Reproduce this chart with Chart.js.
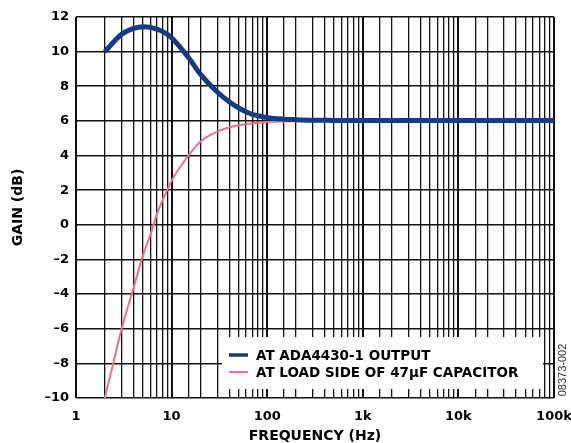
<!DOCTYPE html>
<html>
<head>
<meta charset="utf-8">
<script src="https://cdn.jsdelivr.net/npm/chart.js@4/dist/chart.umd.min.js"></script>
<style>
  html, body { margin: 0; padding: 0; background: #fff; }
  #wrap { width: 571px; height: 443px; }
</style>
</head>
<body>
<div id="wrap"><canvas id="myChart" width="571" height="443"></canvas></div>
<script>
// values
const outputFreq = [2, 3, 4, 5, 6, 7, 8, 9, 10, 15, 20, 30, 40, 50, 60, 70, 80, 100, 150, 200, 300, 500, 1000, 10000, 100000];
const outputGain = [10.0, 11.0, 11.34, 11.44, 11.4, 11.3, 11.17, 11.0, 10.8, 9.66, 8.7, 7.67, 7.11, 6.76, 6.53, 6.38, 6.3, 6.19, 6.1, 6.07, 6.04, 6.03, 6.02, 6.02, 6.02];

const loadFreq = [2, 2.5, 3, 4, 5, 6, 7, 8, 9, 10, 15, 20, 30, 40, 50, 70, 100, 200, 1000, 100000];
const loadGain = [-10, -7.8, -6.0, -3.65, -1.78, -0.57, 0.6, 1.4, 2.0, 2.55, 4.0, 4.8, 5.38, 5.62, 5.75, 5.87, 5.94, 5.98, 5.99, 5.99];

const seriesLabels = ['AT ADA4430-1 OUTPUT', 'AT LOAD SIDE OF 47µF CAPACITOR'];

const decadeValues = [1, 10, 100, 1000, 10000, 100000];
const decadeLabels = ['1', '10', '100', '1k', '10k', '100k'];

const gainTicks = [-10, -8, -6, -4, -2, 0, 2, 4, 6, 8, 10, 12];

const BLUE = '#143c86';
const PINK = '#ef6f88';

function toPoints(xs, ys) {
    return xs.map((x, i) => ({ x: x, y: ys[i] }));
}

function isDecade(v) {
    return decadeValues.indexOf(v) !== -1;
}

// legend box drawn inside the plot, bottom right
const insideLegend = {
    id: 'insideLegend',
    afterDatasetsDraw(chart) {
        const ctx = chart.ctx;
        const area = chart.chartArea;
        const boxW = 321, boxH = 52;
        const bx = area.right - 11 - boxW;
        const by = area.bottom - 9 - boxH;
        ctx.save();
        ctx.fillStyle = '#fff';
        ctx.fillRect(bx, by, boxW, boxH);
        ctx.font = 'bold 13.5px "DejaVu Sans"';
        ctx.textBaseline = 'middle';
        ctx.fillStyle = '#000';
        chart.data.datasets.forEach((ds, i) => {
            const y = by + 18 + i * 17;
            ctx.strokeStyle = ds.borderColor;
            ctx.lineWidth = i === 0 ? 3.5 : 2;
            ctx.beginPath();
            ctx.moveTo(bx + 7, y);
            ctx.lineTo(bx + 26, y);
            ctx.stroke();
            ctx.fillText(ds.label, bx + 34, y + 1);
        });
        ctx.restore();
    },
    afterDraw(chart) {
        const ctx = chart.ctx;
        ctx.save();
        ctx.translate(563, 370);
        ctx.rotate(-Math.PI / 2);
        ctx.font = '11px "Liberation Sans"';
        ctx.fillStyle = '#333';
        ctx.textAlign = 'center';
        ctx.textBaseline = 'middle';
        ctx.fillText('08373-002', 0, 0);
        ctx.restore();
    }
};

const config = {
    type: 'line',
    data: {
        datasets: [
            {
                label: seriesLabels[0],
                data: toPoints(outputFreq, outputGain),
                borderColor: BLUE,
                borderWidth: 5,
                pointRadius: 0,
                cubicInterpolationMode: 'monotone',
                fill: false,
            },
            {
                label: seriesLabels[1],
                data: toPoints(loadFreq, loadGain),
                borderColor: PINK,
                borderWidth: 2,
                pointRadius: 0,
                cubicInterpolationMode: 'monotone',
                fill: false,
            }
        ]
    },
    options: {
        responsive: false,
        animation: false,
        devicePixelRatio: 1,
        layout: { padding: { left: 0, top: 17, right: 17, bottom: 0 } },
        plugins: {
            legend: { display: false },
            tooltip: { enabled: false },
        },
        scales: {
            x: {
                type: 'logarithmic',
                min: 1,
                max: 100000,
                afterFit: (scale) => {
                    scale.height = 45;
                    scale.paddingLeft = 0;
                    scale.paddingRight = 0;
                },
                grid: {
                    color: '#111',
                    lineWidth: (c) => (c.tick && isDecade(c.tick.value)) ? 2 : 1.3,
                    drawTicks: false,
                },
                border: { display: false },
                ticks: {
                    autoSkip: false,
                    maxRotation: 0,
                    padding: 11,
                    color: '#000',
                    font: { family: '"DejaVu Sans"', weight: 'bold', size: 13 },
                    callback: (v) => {
                        const i = decadeValues.indexOf(v);
                        return i === -1 ? '' : decadeLabels[i];
                    }
                },
                title: {
                    display: true,
                    text: 'FREQUENCY (Hz)',
                    color: '#000',
                    font: { family: '"DejaVu Sans"', weight: 'bold', size: 14, lineHeight: 1 },
                    padding: { top: 0, bottom: 0 },
                }
            },
            y: {
                min: -10,
                max: 12,
                afterFit: (scale) => { scale.width = 76; },
                afterBuildTicks: (scale) => {
                    scale.ticks = gainTicks.map(v => ({ value: v }));
                },
                grid: {
                    color: '#111',
                    lineWidth: 1.6,
                    drawTicks: false,
                },
                border: { display: false },
                ticks: {
                    padding: 7,
                    color: '#000',
                    font: { family: '"DejaVu Sans"', weight: 'bold', size: 13 },
                    callback: (v) => v < 0 ? '\u2013' + Math.abs(v) : String(v),
                },
                title: {
                    display: true,
                    text: 'GAIN (dB)',
                    color: '#000',
                    font: { family: '"DejaVu Sans"', weight: 'bold', size: 14 },
                    padding: { top: 10, bottom: 0 },
                }
            }
        }
    },
    plugins: [insideLegend]
};

const chart = new Chart(document.getElementById('myChart'), config);
</script>
</body>
</html>
